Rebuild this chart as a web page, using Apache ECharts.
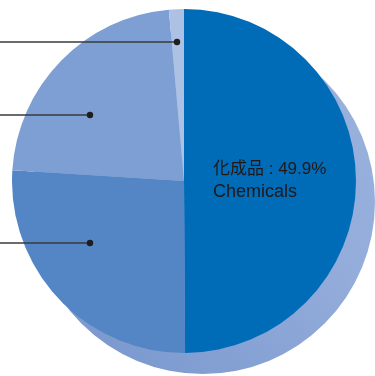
<!DOCTYPE html>
<html><head><meta charset="utf-8">
<script src="https://cdn.jsdelivr.net/npm/echarts@6/dist/echarts.min.js"></script>
<style>html,body{margin:0;padding:0;background:#fff}#c{width:375px;height:376px}</style>
</head><body><div id="c"></div>
<script>
const categories = ['化成品', 'セグメントB', 'セグメントC', 'その他'];
const englishNames = ['Chemicals', 'Segment B', 'Segment C', 'Others'];
const values = [49.9, 26.1, 22.6, 1.4];
const colors = ['#006cb8', '#5485c5', '#7e9fd4', '#adc1e5'];

const chart = echarts.init(document.getElementById('c'));
const R = 172, CX = 184, CY = 181;
const leaders = [[0, 42, 177, 42], [0, 115, 90, 115], [0, 243, 90, 243]];
const graphics = [];
leaders.forEach(l => {
  graphics.push({type: 'line', shape: {x1: l[0], y1: l[1], x2: l[2], y2: l[3]}, style: {stroke: '#3a3a3a', lineWidth: 1.5}, z: 100});
  graphics.push({type: 'circle', shape: {cx: l[2], cy: l[3], r: 3.2}, style: {fill: '#1e1e1e'}, z: 101});
});

chart.setOption({
  animation: false,
  graphic: graphics,
  series: [
    {
      type: 'pie', silent: true, center: [CX + 19, CY + 21], radius: R,
      label: {show: false}, labelLine: {show: false},
      data: [{value: 1, itemStyle: {color: {type: 'linear', x: 0, y: 1, x2: 1, y2: 0, colorStops: [{offset: 0, color: '#7594cc'}, {offset: 0.6, color: '#93acda'}, {offset: 1, color: '#9ab2dd'}]}}}],
      z: 1
    },
    {
      type: 'pie', center: [CX, CY], radius: R, startAngle: 90, clockwise: true,
      labelLine: {show: false},
      label: {show: false},
      data: categories.map((n, i) => ({
        name: n, value: values[i], itemStyle: {color: colors[i]},
        label: i === 0 ? {
          show: true, position: 'inside',
          formatter: p => '{a|' + p.name + ' : ' + p.value + '%}\n{b|' + englishNames[p.dataIndex] + '}',
          rich: {
            a: {fontFamily: 'Liberation Sans, Noto Sans CJK JP, sans-serif', fontSize: 17, color: '#231815', lineHeight: 23, width: 120, align: 'left'},
            b: {fontFamily: 'Liberation Sans, Noto Sans CJK JP, sans-serif', fontSize: 18, color: '#231815', lineHeight: 23, width: 120, align: 'left'}
          }
        } : {show: false}
      })),
      z: 2
    }
  ]
});
</script></body></html>
